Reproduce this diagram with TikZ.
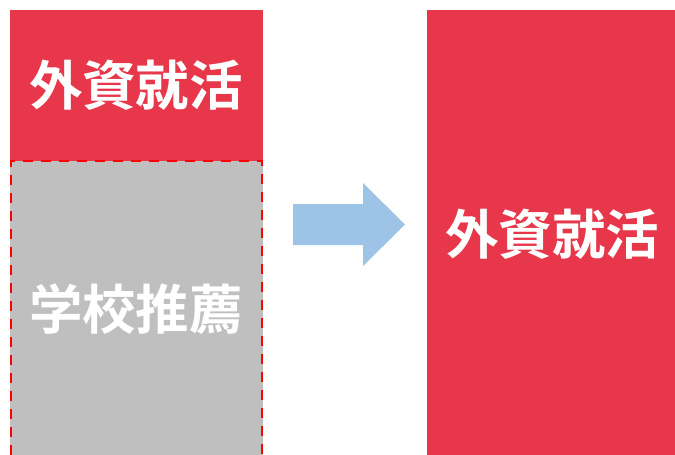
\documentclass[tikz,border=0pt]{standalone}
\usepackage{fontspec}
\newfontfamily\cjk{Noto Sans CJK JP Bold}
\definecolor{cred}{HTML}{E8374A}
\definecolor{cgray}{HTML}{BFBFBF}
\definecolor{cblue}{HTML}{9DC3E6}
\begin{document}
\begin{tikzpicture}[x=1pt,y=-1pt,
  lbl/.style={text=white,font=\cjk\fontsize{53.5}{54}\selectfont,inner sep=0pt}]
\useasboundingbox (0,0) rectangle (675,455);
\fill[cred] (10,10) rectangle (263,161);
\fill[cgray] (10,161) rectangle (263,455);
\draw[red,line width=2pt,dash pattern=on 10pt off 8pt] (11,455) -- (11,161) -- (262,161) -- (262,455);
\fill[cred] (427,10) rectangle (675,455);
\fill[cblue] (293,204) -- (363,204) -- (363,183) -- (405,224.5) -- (363,266) -- (363,245) -- (293,245) -- cycle;
\node[lbl] (a) at (136,85) {外資就活};
\node[lbl] (b) at (136,309) {学校推薦};
\node[lbl] (c) at (552,234) {外資就活};
\end{tikzpicture}
\end{document}
